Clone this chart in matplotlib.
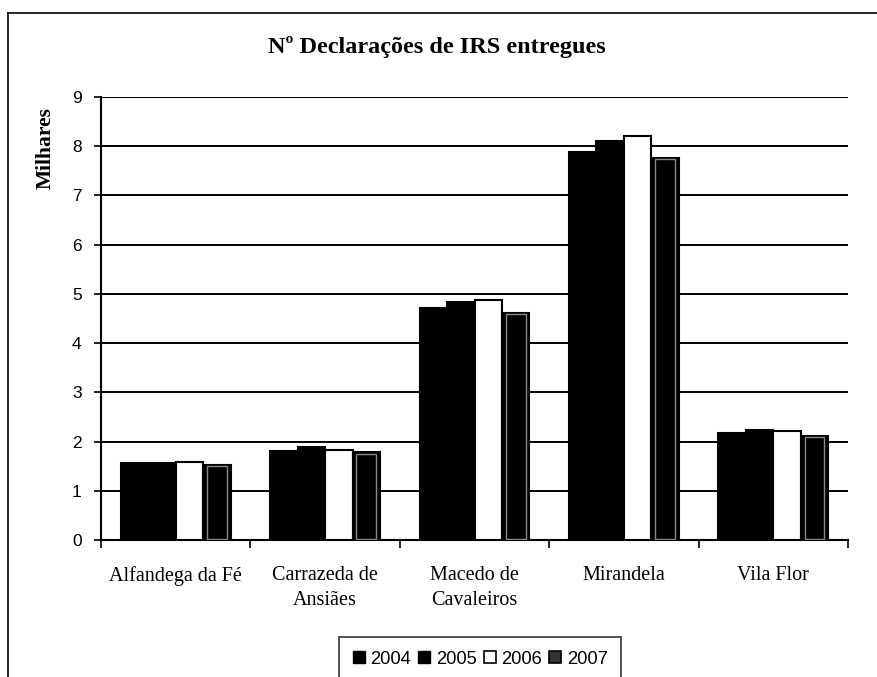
import matplotlib
matplotlib.use("Agg")
import matplotlib.pyplot as plt
from matplotlib.lines import Line2D
from matplotlib.patches import Patch
import numpy as np

categories = ["Alfandega da Fé", "Carrazeda de\nAnsiães", "Macedo de\nCavaleiros", "Mirandela", "Vila Flor"]
years = ["2004", "2005", "2006", "2007"]
v2004 = [1.56, 1.81, 4.72, 7.88, 2.17]
v2005 = [1.56, 1.88, 4.83, 8.10, 2.24]
v2006 = [1.58, 1.83, 4.88, 8.21, 2.22]
v2007 = [1.53, 1.78, 4.62, 7.77, 2.12]
series = [v2004, v2005, v2006, v2007]

serif = ["Liberation Serif", "DejaVu Serif"]
sans = ["Liberation Sans", "DejaVu Sans"]

fig = plt.figure(figsize=(8.77, 6.77), dpi=100)
ax = fig.add_axes([101/877, 1-540/677, (848-101)/877, (540-97)/677])

x = np.arange(len(categories))
bw = 0.184
offsets = [-1.5, -0.5, 0.5, 1.5]
faces = ["black", "black", "white", "black"]
for vals, off, fc in zip(series, offsets, faces):
    ax.bar(x + off*bw, vals, bw, color=fc, edgecolor="black", linewidth=1.5, zorder=3)
# inner grey frame for 2007 pattern
ax.bar(x + 1.5*bw, np.array(v2007) - 0.06, bw*0.72, bottom=0.03, color="none",
       edgecolor="#888888", linewidth=1.0, zorder=4)

ax.set_xlim(-0.5, len(categories)-0.5)
ax.set_ylim(0, 9)
ax.set_yticks(range(0, 10))
ax.yaxis.grid(True, color="black", linewidth=1.4, zorder=0)
ax.set_axisbelow(True)
ax.set_xticks(x)
ax.set_xticklabels(categories, fontfamily=serif, fontsize=14.5, linespacing=1.4)
ax.tick_params(axis="x", length=0, pad=19)
ax.set_xticks(np.arange(-0.5, len(categories)), minor=True)
ax.tick_params(axis="x", which="minor", length=6, width=1.2, direction="out")
ax.tick_params(axis="y", length=5, width=1.2, direction="out", pad=9)
for lab in ax.get_yticklabels():
    lab.set_fontfamily(sans)
    lab.set_fontsize(12.5)
for s in ["top", "right"]:
    ax.spines[s].set_visible(False)
ax.spines["left"].set_linewidth(1.5)
ax.spines["bottom"].set_linewidth(1.5)

fig.text(437/877, 1-47/677, "Nº Declarações de IRS entregues", ha="center", va="center",
         fontfamily=serif, fontsize=17.5, fontweight="bold")
fig.text(46/877, 1-148/677, "Milhares", rotation=90, ha="center", va="center",
         fontfamily=serif, fontsize=15.5, fontweight="bold")

# figure border lines
fig.add_artist(Line2D([8/877, 8/877], [0, 1-13/677], color="black", linewidth=1.2, transform=fig.transFigure))
fig.add_artist(Line2D([8/877, 1], [1-13/677, 1-13/677], color="black", linewidth=1.2, transform=fig.transFigure))

handles = [Patch(facecolor="black", edgecolor="black"),
           Patch(facecolor="black", edgecolor="black"),
           Patch(facecolor="white", edgecolor="black", linewidth=1.2),
           Patch(facecolor="#333333", edgecolor="black", linewidth=1.2)]
leg = fig.legend(handles, years, loc="upper left", bbox_to_anchor=(339/877, 1-637/677),
                 ncol=4, frameon=True, fancybox=False, prop={"family": sans, "size": 13.2},
                 handlelength=0.65, handleheight=0.65, handletextpad=0.3, columnspacing=0.4,
                 borderpad=0.75, borderaxespad=0)
leg.get_frame().set_edgecolor("black")
leg.get_frame().set_linewidth(1.2)

fig.savefig("out.png", dpi=100)
